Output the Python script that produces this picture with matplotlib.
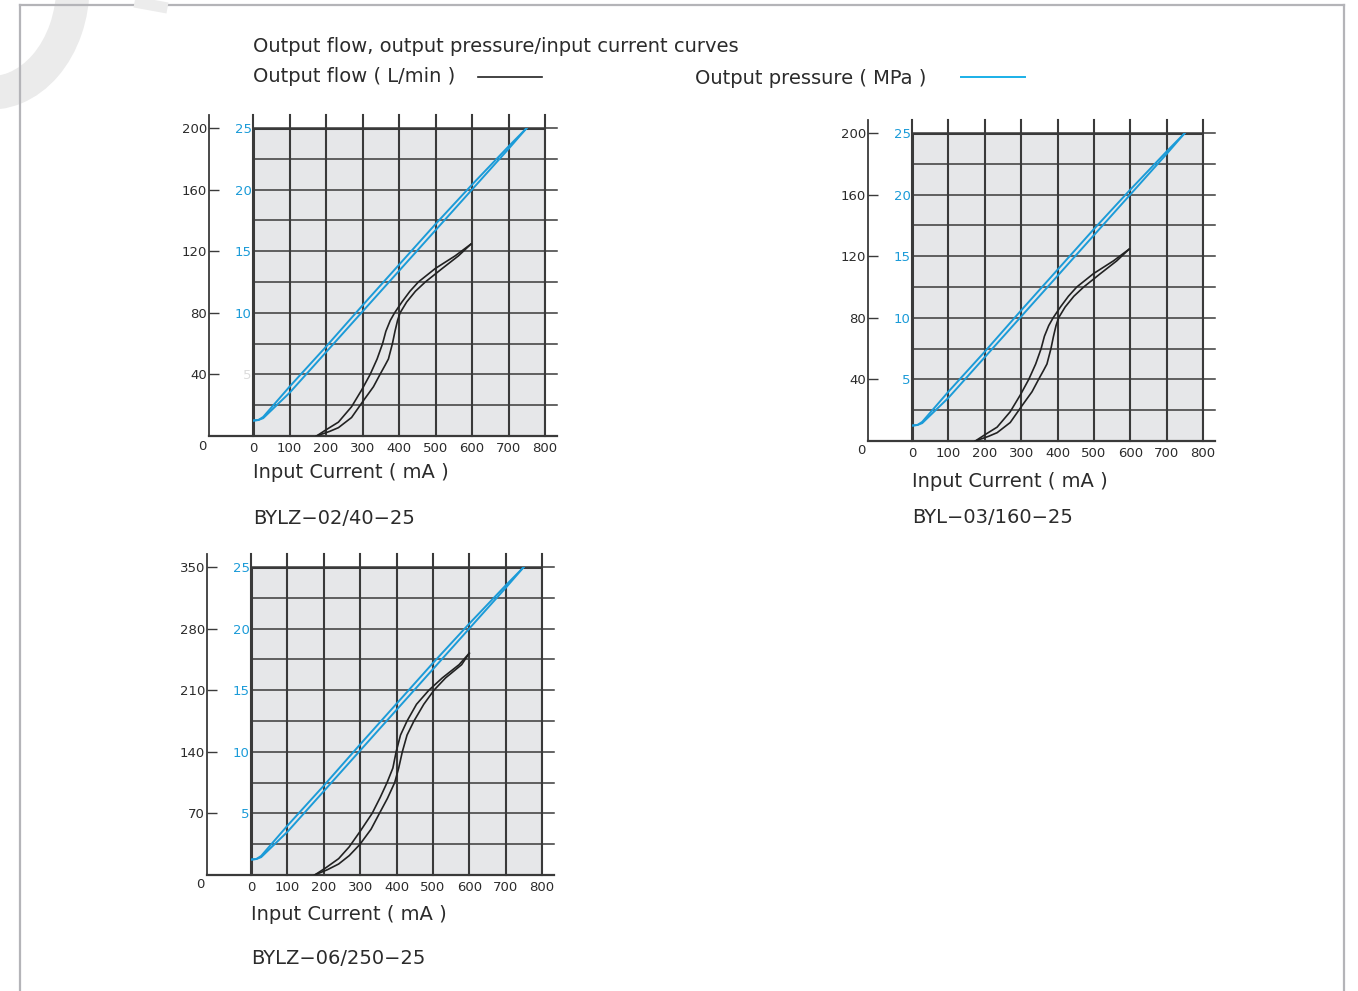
import matplotlib
matplotlib.use("Agg")
import matplotlib.pyplot as plt
from matplotlib.lines import Line2D
from matplotlib.patches import Arc

plt.rcParams['font.family'] = ['DejaVu Sans']

W, H = 1358, 991
fig = plt.figure(figsize=(W / 100, H / 100), dpi=100)

# data
current_ticks = list(range(0, 801, 100))
pressure_ticks = [5, 10, 15, 20, 25]
flow_ticks_small = [40, 80, 120, 160, 200]
flow_ticks_big = [70, 140, 210, 280, 350]

# blue: output pressure (MPa), rising and falling branch
p_up_x = [0, 15, 28, 100, 200, 300, 400, 500, 600, 700, 750]
p_up_y = [1.25, 1.3, 1.55, 4.0, 7.25, 10.6, 13.9, 17.2, 20.4, 23.5, 25]
p_dn_x = [0, 15, 28, 100, 200, 300, 400, 500, 600, 700, 750]
p_dn_y = [1.25, 1.3, 1.45, 3.5, 6.8, 10.1, 13.4, 16.7, 20.0, 23.3, 25]

# black: output flow (L/min), BYLZ-02/40-25 and BYL-03/160-25
f1_up_x = [174, 200, 234, 270, 298, 321, 340, 355, 364, 376, 388, 408, 430, 453, 499, 554, 597]
f1_up_y = [0, 4, 9, 19, 30, 40, 50, 60, 68, 75, 80, 87, 94, 100, 108.7, 117, 124.6]
f1_dn_x = [174, 210, 234, 270, 302, 330, 348, 362, 371, 382, 389, 396, 403, 421, 445, 472, 518, 563, 597]
f1_dn_y = [0, 3, 5.4, 12, 22.8, 32, 40, 46, 50, 60, 68, 75, 80, 87, 94, 100, 108.7, 117, 124.6]

# black: output flow (L/min), BYLZ-06/250-25
f3_up_x = [175, 205, 241, 270, 299, 333, 355, 374, 390, 399, 411, 429, 455, 489, 526, 572, 600]
f3_up_y = [0, 8, 18.6, 32, 49, 70, 88, 105, 121.5, 140, 159, 175, 194, 210, 224, 239, 252]
f3_dn_x = [175, 210, 241, 270, 299, 330, 353, 375, 395, 406, 416, 429, 448, 475, 503, 535, 579, 600]
f3_dn_y = [0, 6, 12.5, 22, 34.6, 52, 70, 87, 105, 121.5, 140, 159, 175, 194, 210, 224, 239, 252]

TXT = '#2b2b2b'
BLUE = '#1b9bd8'
GRID = '#3a3a3a'
BG = '#e6e7e9'
TICK_FS = 9.5
LABEL_FS = 14


def draw_chart(box, fmax, fticks, up, dn, name, title_off, name_off, five_color):
    x0, y0, x1, y1 = box
    ax = fig.add_axes([x0 / W, 1 - y1 / H, (x1 - x0) / W, (y1 - y0) / H])
    ax.set_xlim(0, 800)
    ax.set_ylim(0, fmax)
    ax.set_facecolor(BG)
    sx = 800 / (x1 - x0)
    sy = fmax / (y1 - y0)
    left, top, right = -44 * sx, fmax + 13 * sy, 800 + 12 * sx

    for v in current_ticks:
        ax.plot([v, v], [0, top], color=GRID, lw=1.5, clip_on=False, zorder=1)
    for k in range(1, 11):
        h = fmax * k / 10
        ax.plot([0, right], [h, h], color=GRID, lw=1.1, clip_on=False, zorder=1)
    ax.plot([0, 0], [0, fmax], color=GRID, lw=2.2, zorder=2)
    ax.plot([800, 800], [0, fmax], color=GRID, lw=2.2, zorder=2)
    ax.plot([0, 800], [fmax, fmax], color=GRID, lw=2.2, zorder=2)
    # outer flow axis
    ax.plot([left, left], [0, top], color=GRID, lw=1.3, clip_on=False)
    ax.plot([left, right], [0, 0], color=GRID, lw=1.6, clip_on=False)
    for spine in ax.spines.values():
        spine.set_visible(False)
    ax.spines['left'].set_position(('outward', 44 * 0.72))
    ax.set_yticks(fticks)
    ax.tick_params(axis='y', direction='in', length=10 * 0.72, width=1.0,
                   color=GRID, pad=1.5, labelsize=TICK_FS, labelcolor=TXT)
    ax.set_xticks(current_ticks)
    ax.tick_params(axis='x', length=0, pad=4, labelsize=TICK_FS, labelcolor=TXT)
    ax.text(left - 7 * sx, -10 * sy, '0', ha='center', va='center',
            fontsize=TICK_FS, color=TXT)

    ax.plot(up[0], up[1], color='#222222', lw=1.2, zorder=3)
    ax.plot(dn[0], dn[1], color='#222222', lw=1.2, zorder=3)

    tw = ax.twinx()
    tw.set_ylim(0, 25)
    for spine in tw.spines.values():
        spine.set_visible(False)
    tw.yaxis.tick_left()
    tw.set_yticks(pressure_ticks)
    tw.tick_params(axis='y', length=0, pad=1.0, labelsize=TICK_FS, labelcolor=BLUE)
    tw.get_yticklabels()[0].set_color(five_color)
    tw.plot(p_up_x, p_up_y, color=BLUE, lw=1.4)
    tw.plot(p_dn_x, p_dn_y, color=BLUE, lw=1.4)

    ax.text(0, -title_off * sy, 'Input Current ( mA )', ha='left', va='center',
            fontsize=LABEL_FS, color=TXT)
    ax.text(0, -name_off * sy, name, ha='left', va='center',
            fontsize=LABEL_FS, color=TXT)


draw_chart((253, 128, 545, 436), 200, flow_ticks_small, (f1_up_x, f1_up_y),
           (f1_dn_x, f1_dn_y), 'BYLZ\u221202/40\u221225', 36, 82, '#dcdcdc')
draw_chart((912, 133, 1203, 441), 200, flow_ticks_small, (f1_up_x, f1_up_y),
           (f1_dn_x, f1_dn_y), 'BYL\u221203/160\u221225', 41, 77, BLUE)
draw_chart((251, 567, 542, 875), 350, flow_ticks_big, (f3_up_x, f3_up_y),
           (f3_dn_x, f3_dn_y), 'BYLZ\u221206/250\u221225', 39, 83, BLUE)

# headings and legend
fig.text(253 / W, 1 - 46 / H, 'Output flow, output pressure/input current curves',
         ha='left', va='center', fontsize=LABEL_FS, color=TXT)
fig.text(253 / W, 1 - 77 / H, 'Output flow ( L/min )', ha='left', va='center',
         fontsize=LABEL_FS, color=TXT)
fig.add_artist(Line2D([478 / W, 542 / W], [1 - 77 / H] * 2, color='#222222', lw=1.2))
fig.text(695 / W, 1 - 79 / H, 'Output pressure ( MPa )', ha='left', va='center',
         fontsize=LABEL_FS, color=TXT)
fig.add_artist(Line2D([961 / W, 1025 / W], [1 - 77 / H] * 2, color='#1ab0e8', lw=1.4))

# page frame and faint watermark
fc = '#b4b4b8'
fig.add_artist(Line2D([20 / W, 20 / W], [0, 1 - 5 / H], color=fc, lw=1.6))
fig.add_artist(Line2D([20 / W, 1344 / W], [1 - 5 / H] * 2, color=fc, lw=1.6))
fig.add_artist(Line2D([1344 / W, 1344 / W], [0, 1 - 5 / H], color=fc, lw=1.6))
wm = Arc((-10, H + 15), 166, 216, theta1=265, theta2=360, color='#ebebeb',
         lw=24, transform=None, zorder=0)
fig.add_artist(wm)
fig.add_artist(Line2D([140 / W, 162 / W], [1 - 3 / H, 1 - 7 / H], color='#ececec', lw=8))

fig.savefig('out.png', dpi=100)
